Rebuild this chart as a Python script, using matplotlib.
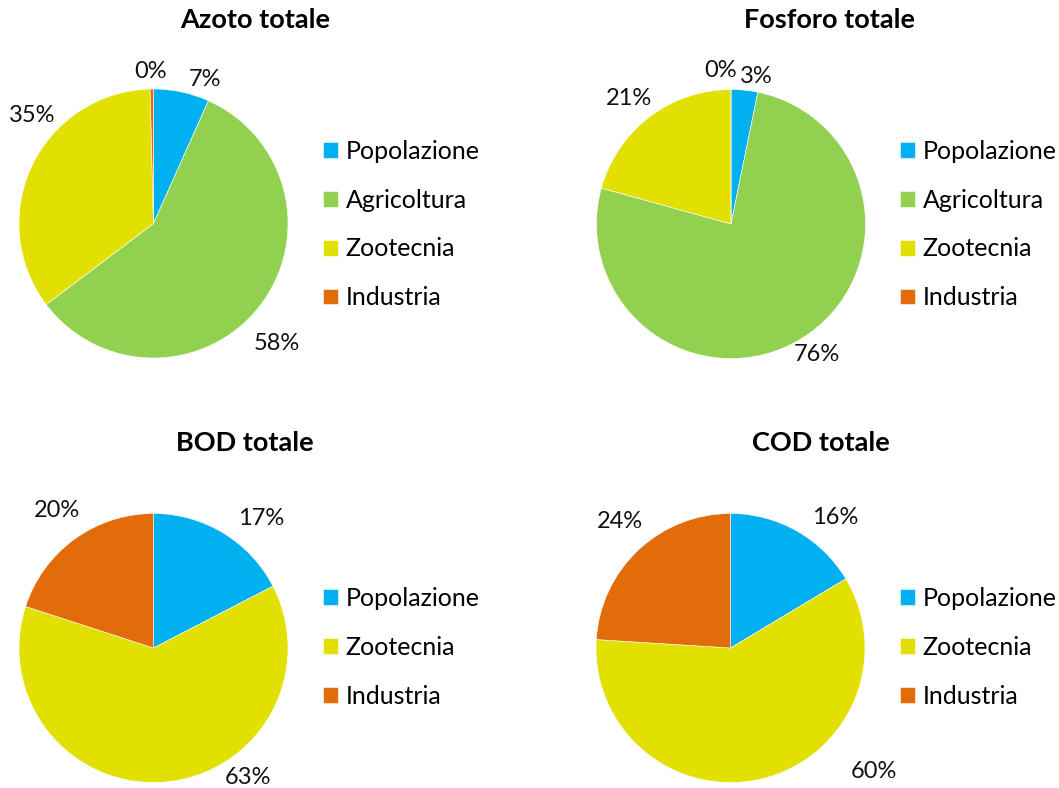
import numpy as np
import matplotlib
matplotlib.use("Agg")
import matplotlib.pyplot as plt

plt.rcParams['font.family'] = ['Lato', 'DejaVu Sans']

# shares per source (percent)
azoto_labels = ['Popolazione', 'Agricoltura', 'Zootecnia', 'Industria']
azoto_values = [6.7, 58.0, 34.9, 0.4]

fosforo_labels = ['Popolazione', 'Agricoltura', 'Zootecnia', 'Industria']
fosforo_values = [3.2, 76.1, 20.7, 0.0]

bod_labels = ['Popolazione', 'Zootecnia', 'Industria']
bod_values = [17.4, 62.6, 20.0]

cod_labels = ['Popolazione', 'Zootecnia', 'Industria']
cod_values = [16.4, 59.6, 24.0]

colors = {'Popolazione': '#00B0F0', 'Agricoltura': '#92D050',
          'Zootecnia': '#E2E000', 'Industria': '#E36C0A'}

W, H = 1059, 788
R = 134.5  # pie radius in pixels

# pie centre, title centre x, legend x (pixels), label spots (radius units)
panels = [
    ("Azoto totale", azoto_labels, azoto_values, (153.5, 223.5), 255, 323,
     [(0.38, 1.07), (0.92, -0.89), (-0.90, 0.80), (-0.02, 1.13)]),
    ("Fosforo totale", fosforo_labels, fosforo_values, (731, 224), 830, 900,
     [(0.19, 1.10), (0.64, -0.97), (-0.76, 0.93), (-0.08, 1.14)]),
    ("BOD totale", bod_labels, bod_values, (153.5, 648), 245, 323,
     [(0.80, 0.96), (0.70, -0.96), (-0.72, 1.02)]),
    ("COD totale", cod_labels, cod_values, (730.5, 648), 821, 900,
     [(0.78, 0.97), (1.07, -0.92), (-0.82, 0.94)]),
]

fig = plt.figure(figsize=(W / 100, H / 100), dpi=100)

for title, labels, values, (cx, cy), tx, lx, spots in panels:
    ax = fig.add_axes([(cx - R) / W, (H - cy - R) / H, 2 * R / W, 2 * R / H])
    wedges, texts, autotexts = ax.pie(
        values, colors=[colors[l] for l in labels], startangle=90,
        counterclock=False, radius=1, autopct='%1.0f%%', pctdistance=1.15,
        wedgeprops=dict(edgecolor='white', linewidth=0.4),
        textprops=dict(fontsize=17, color='#111111'))
    for t, (px, py) in zip(autotexts, spots):
        t.set_position((px, py))
        t.set_ha('center')
        t.set_va('center')
    ax.set_xlim(-1, 1)
    ax.set_ylim(-1, 1)
    ax.set_aspect('equal')

    fig.text(tx / W, 1 - 20 / H if cy < 400 else 1 - 443 / H, title,
             ha='center', va='center', fontsize=19.5, fontweight='bold')

    top = 150 if len(labels) == 4 else 597
    fig.legend(wedges, labels, loc='upper left',
               bbox_to_anchor=(lx / W, 1 - (top - 10) / H),
               frameon=False, fontsize=18, handlelength=0.6,
               handleheight=0.6, handletextpad=0.3, labelspacing=1.03,
               borderpad=0, borderaxespad=0)

fig.savefig("out.png", dpi=100)
